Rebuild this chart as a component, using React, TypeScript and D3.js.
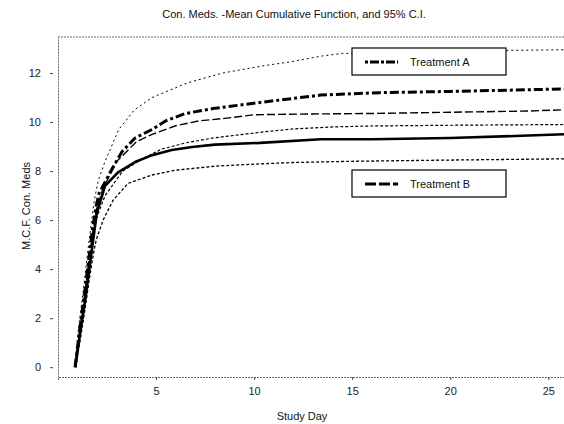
import * as d3 from 'd3'
import { useEffect, useRef } from 'react'

type Pt = [number, number]

// study day, M.C.F. values
const meanA: Pt[] = [[0.87,0],[1.1,1.5],[1.35,3.0],[1.55,4.3],[1.75,5.6],[1.95,6.6],[2.1,7.1],[2.76,8.1],[3.27,8.8],[3.93,9.35],[4.8,9.7],[5.5,10.05],[6.5,10.35],[7.9,10.55],[10.3,10.8],[13.4,11.1],[16.4,11.2],[20,11.25],[25.8,11.35]]
const upperA: Pt[] = [[0.85,0],[1.05,1.6],[1.3,3.2],[1.5,4.6],[1.7,5.9],[1.85,6.8],[2.05,7.6],[2.4,8.4],[3.1,9.7],[3.9,10.5],[4.8,11.0],[6.6,11.6],[8.4,12.0],[10.5,12.3],[11.8,12.45],[13.5,12.7],[14.5,12.8],[20,12.9],[25.8,12.95]]
const lowerA: Pt[] = [[0.88,0],[1.1,1.35],[1.37,2.8],[1.57,4.0],[1.77,5.2],[1.97,6.1],[2.4,7.0],[3.3,8.0],[4.3,8.5],[5.3,8.9],[6.5,9.15],[7.9,9.35],[10.5,9.6],[12,9.72],[14,9.8],[16,9.84],[20,9.87],[25.8,9.9]]
const meanB: Pt[] = [[0.88,0],[1.12,1.35],[1.38,2.7],[1.58,3.9],[1.78,5.1],[1.98,6.3],[2.4,7.4],[3.06,7.95],[3.93,8.37],[4.8,8.65],[5.8,8.86],[6.84,8.98],[8,9.08],[10.3,9.15],[13.4,9.3],[16,9.3],[20,9.35],[24,9.45],[25.8,9.5]]
const upperB: Pt[] = [[0.87,0],[1.1,1.45],[1.35,2.9],[1.55,4.2],[1.75,5.4],[1.95,6.4],[2.3,7.3],[3.0,8.4],[4.0,9.2],[4.8,9.5],[6,9.85],[7.2,10.05],[8.5,10.15],[10,10.3],[13,10.33],[16,10.35],[20,10.4],[24,10.45],[25.8,10.5]]
const lowerB: Pt[] = [[0.9,0],[1.15,1.2],[1.4,2.5],[1.6,3.6],[1.8,4.6],[1.95,5.2],[2.3,6.0],[2.8,6.8],[3.57,7.5],[4.8,7.84],[6,8.04],[8,8.2],[10.5,8.3],[12,8.35],[15,8.4],[20,8.45],[25.8,8.5]]

const xTicks = [5, 10, 15, 20, 25]
const yTicks = [0, 2, 4, 6, 8, 10, 12]

const series: { data: Pt[], width: number, dash: string | null }[] = [
  { data: upperA, width: 1, dash: '2,3' },
  { data: lowerB, width: 1.3, dash: '3,2' },
  { data: lowerA, width: 1.2, dash: '3,2' },
  { data: upperB, width: 1.4, dash: '8,3' },
  { data: meanB, width: 2.6, dash: null },
  { data: meanA, width: 3, dash: '9,3,3,3' },
]

const legend = [
  { label: 'Treatment A', dash: '3,2,9,2', y: 48 },
  { label: 'Treatment B', dash: '11,3', y: 170 },
]

export default function App(){
  const svgRef = useRef<SVGSVGElement|null>(null)
  const width = 564, height = 424
  const font = 'Arial, "Liberation Sans", sans-serif'

  useEffect(()=>{
    const svg = d3.select(svgRef.current)
    svg.selectAll('*').remove()

    const x = d3.scaleLinear().domain([0, 25.8]).range([58, 564])
    const y = d3.scaleLinear().domain([-0.4, 13.47]).range([377, 37])

    svg.append('rect').attr('width', width).attr('height', height).attr('fill', '#fff')

    // frame (dotted)
    const frame = svg.append('g').attr('stroke', '#666').attr('stroke-dasharray', '2,1').attr('fill', 'none')
    frame.append('line').attr('x1', 58).attr('x2', 564).attr('y1', 37).attr('y2', 37)

    // axes
    const ax = svg.append('g').attr('transform', 'translate(58,0)')
      .call(d3.axisLeft(y).tickValues(yTicks).tickSize(0).tickPadding(17).tickFormat(d3.format('d')))
    ax.selectAll('.tick').append('line').attr('x1', -8).attr('x2', -5).attr('stroke', '#444')
    const bx = svg.append('g').attr('transform', 'translate(0,377)')
      .call(d3.axisBottom(x).tickValues(xTicks).tickSize(3).tickPadding(7).tickFormat(d3.format('d')))
    for(const a of [ax, bx]){
      a.select('.domain').attr('stroke', '#666').attr('stroke-dasharray', '2,1')
      a.selectAll('.tick line').attr('stroke', '#444')
      a.selectAll('.tick text').attr('font-family', font).attr('font-size', 11).attr('fill', '#222')
    }

    // curves
    const line = d3.line<Pt>().x(d=>x(d[0])).y(d=>y(d[1]))
    const g = svg.append('g').attr('fill', 'none').attr('stroke', '#000')
    for(const s of series){
      const p = g.append('path').attr('d', line(s.data)).attr('stroke-width', s.width)
        .attr('stroke-linejoin', 'round')
      if(s.dash) p.attr('stroke-dasharray', s.dash)
    }

    // legend boxes
    for(const l of legend){
      const lg = svg.append('g')
      lg.append('rect').attr('x', 352).attr('y', l.y).attr('width', 154).attr('height', 27)
        .attr('fill', '#fff').attr('stroke', '#000').attr('stroke-width', 1.2)
      lg.append('line').attr('x1', 365).attr('x2', 398).attr('y1', l.y + 14).attr('y2', l.y + 14)
        .attr('stroke', '#000').attr('stroke-width', 3).attr('stroke-dasharray', l.dash)
      lg.append('text').attr('x', 410).attr('y', l.y + 18).attr('font-family', font).attr('font-size', 11)
        .attr('fill', '#111').text(l.label)
    }

    // titles
    svg.append('text').attr('x', 294).attr('y', 18).attr('text-anchor', 'middle').attr('font-family', font)
      .attr('font-size', 11).attr('fill', '#111').text('Con. Meds. -Mean Cumulative Function, and 95% C.I.')
    svg.append('text').attr('transform', 'translate(30,206) rotate(-90)').attr('text-anchor', 'middle')
      .attr('font-family', font).attr('font-size', 11).attr('fill', '#111').text('M.C.F. Con. Meds')
    svg.append('text').attr('x', 302).attr('y', 420).attr('text-anchor', 'middle').attr('font-family', font)
      .attr('font-size', 11).attr('fill', '#111').text('Study Day')
  }, [])

  return (
    <svg ref={svgRef} width={width} height={height} style={{ position: 'absolute', left: 0, top: 0 }}></svg>
  )
}
